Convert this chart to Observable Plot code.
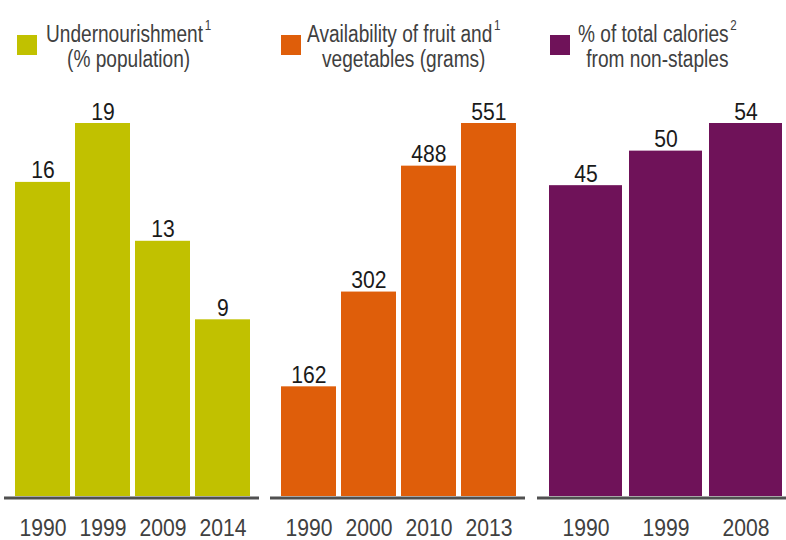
<!DOCTYPE html>
<html><head><meta charset="utf-8">
<script src="https://cdn.jsdelivr.net/npm/d3@7"></script>
<script src="https://cdn.jsdelivr.net/npm/@observablehq/plot@0.6"></script>
<style>
body{margin:0;background:#fff;}
#wrap{position:relative;width:786px;height:540px;overflow:hidden;font-family:"Liberation Sans",Arial,sans-serif;}
#legend{position:relative;height:90px;}
.sw{position:absolute;width:20px;height:20px;}
.lab{position:absolute;top:22px;text-align:center;font-size:23px;line-height:25px;color:#404040;white-space:nowrap;transform:scaleX(0.83);transform-origin:0 0;}
.lab sup{font-size:14px;position:relative;top:-12px;vertical-align:baseline;line-height:0;margin-left:2px;}
#plots{position:relative;height:450px;}
#plots svg{position:absolute;left:0;top:0;}
</style>
</head><body>
<div id="wrap"><div id="legend"></div><div id="plots"></div></div>
<script>
// Data
const years1 = ["1990", "1999", "2009", "2014"];
const undernourishment = [16, 19, 13, 9];
const years2 = ["1990", "2000", "2010", "2013"];
const fruitVeg = [162, 302, 488, 551];
const years3 = ["1990", "1999", "2008"];
const nonStaples = [45, 50, 54];
const legendLine1 = ["Undernourishment", "Availability of fruit and", "% of total calories"];
const legendSup = ["1", "1", "2"];
const legendLine2 = ["(% population)", "vegetables (grams)", "from non-staples"];
const colors = ["#c1c100", "#df5e0a", "#6f1259"];

// Layout (pixels)
const swatchX = [17, 281, 550];
const labelX = [46, 307, 578];
const panels = [
  {years: years1, values: undernourishment, frame: [4, 259], range: [13.3, 251], pad: 0.083},
  {years: years2, values: fruitVeg, frame: [270, 525], range: [279, 517.3], pad: 0.083},
  {years: years3, values: nonStaples, frame: [537, 786], range: [548.3, 781.7], pad: 0.091}
];

const legend = document.getElementById("legend");
legendLine1.forEach((t, i) => {
  const sw = document.createElement("div");
  sw.className = "sw";
  sw.style.left = swatchX[i] + "px";
  sw.style.top = "35px";
  sw.style.background = colors[i];
  legend.appendChild(sw);
  const lab = document.createElement("div");
  lab.className = "lab";
  lab.style.left = labelX[i] + "px";
  const l1 = document.createElement("div");
  l1.append(t);
  const s = document.createElement("sup");
  s.textContent = legendSup[i];
  l1.appendChild(s);
  const l2 = document.createElement("div");
  l2.textContent = legendLine2[i];
  lab.append(l1, l2);
  legend.appendChild(lab);
});

const W = 786, H = 450;
const plots = document.getElementById("plots");
panels.forEach((p, i) => {
  const data = p.years.map((y, j) => ({year: y, value: p.values[j]}));
  const chart = Plot.plot({
    width: W, height: H,
    marginLeft: p.frame[0], marginRight: W - p.frame[1],
    marginTop: 33, marginBottom: 44,
    x: {domain: p.years, range: p.range, paddingInner: p.pad, paddingOuter: 0, label: null},
    y: {domain: [0, d3.max(p.values)], axis: null},
    style: {background: "transparent", fontFamily: "'Liberation Sans', Arial, sans-serif"},
    marks: [
      Plot.barY(data, {x: "year", y: "value", fill: colors[i]}),
      Plot.text(data, {x: "year", y: "value", text: d => String(d.value), dy: -4, lineAnchor: "bottom", fontSize: 23, fill: "#1a1a1a"}),
      Plot.axisX({tickSize: 0, tickPadding: 23, fontSize: 23, color: "#404040", label: null}),
      Plot.ruleY([0], {stroke: "#505050", strokeWidth: 3, dy: 1.5})
    ]
  });
  // condense numeric text horizontally, like the reference's narrow type
  chart.querySelectorAll("text").forEach(el => {
    const tr = el.getAttribute("transform");
    if (tr) el.setAttribute("transform", tr + " scale(0.92,1)");
  });
  plots.appendChild(chart);
});
</script>
</body></html>
